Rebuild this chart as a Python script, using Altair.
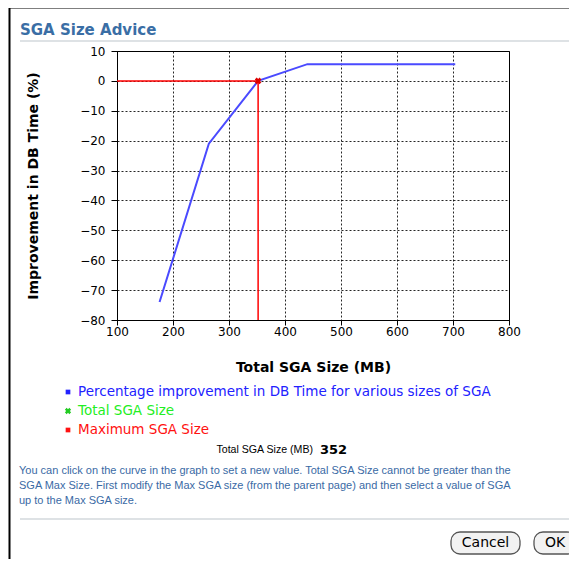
import altair as alt
import pandas as pd

# ---- data ----
sga_sizes = [176, 264, 352, 440, 528, 616, 704]
improvement = [-74, -21, 0, 5.6, 5.6, 5.6, 5.6]
x_ticks = [100, 200, 300, 400, 500, 600, 700, 800]
y_ticks = [-80, -70, -60, -50, -40, -30, -20, -10, 0, 10]
total_sga = [352]
total_improvement = [0]
max_sga = [352]

legend_labels = ["Percentage improvement in DB Time for various sizes of SGA",
                 "Total SGA Size", "Maximum SGA Size"]
legend_colors = ["#2222ff", "#22ee22", "#ff1111"]
help_lines = [
    "You can click on the curve in the graph to set a new value. Total SGA Size cannot be greater than the",
    "SGA Max Size. First modify the Max SGA size (from the parent page) and then select a value of SGA",
    "up to the Max SGA size.",
]

# plot-area origin on the page
OX, OY = 117, 51
W, H = 392, 269

curve = pd.DataFrame({"size": sga_sizes, "imp": improvement})
xs = alt.Scale(domain=[x_ticks[0], x_ticks[-1]], nice=False, zero=False)
ys = alt.Scale(domain=[y_ticks[0], y_ticks[-1]], nice=False, zero=False)

x_axis = alt.Axis(values=x_ticks, title="Total SGA Size (MB)", grid=True,
                  gridDash=[2, 2], gridColor="#000000", gridOpacity=0.85,
                  domainColor="#000000", tickColor="#000000", tickSize=5,
                  labelPadding=1, labelFont="DejaVu Sans", labelFontSize=12,
                  labelColor="#000000", titleFont="DejaVu Sans", titleFontSize=14,
                  titleFontWeight="bold", titleColor="#000000",
                  titleY=47, titleBaseline="middle", labelFlush=False,
                  labelOverlap=False)
y_axis = alt.Axis(values=y_ticks, title="Improvement in DB Time (%)", grid=True,
                  gridDash=[2, 2], gridColor="#000000", gridOpacity=0.85,
                  domainColor="#000000", tickColor="#000000", tickSize=6,
                  labelPadding=6, labelFont="DejaVu Sans", labelFontSize=12,
                  labelColor="#000000", titleFont="DejaVu Sans", titleFontSize=14,
                  titleFontWeight="bold", titleColor="#000000",
                  titleX=-84, titleY=H / 2, titleAngle=270, titleAlign="center",
                  titleBaseline="middle", labelFlush=False, labelOverlap=False)

line = alt.Chart(curve).mark_line(color="#4a4aff", strokeWidth=2).encode(
    x=alt.X("size:Q", scale=xs, axis=x_axis),
    y=alt.Y("imp:Q", scale=ys, axis=y_axis),
)

ref = pd.DataFrame({"x0": [x_ticks[0]], "tot": total_sga, "imp": total_improvement,
                    "ymin": [y_ticks[0]], "mx": max_sga})
hrule = alt.Chart(ref).mark_rule(color="#ff0000", strokeWidth=1.5).encode(
    x=alt.X("x0:Q", scale=xs, axis=x_axis), x2="tot:Q",
    y=alt.Y("imp:Q", scale=ys, axis=y_axis))
vrule = alt.Chart(ref).mark_rule(color="#ff0000", strokeWidth=1.5).encode(
    x=alt.X("mx:Q", scale=xs, axis=x_axis),
    y=alt.Y("ymin:Q", scale=ys, axis=y_axis), y2="imp:Q")
marker = alt.Chart(ref).mark_point(shape="cross", angle=45, filled=True,
                                   color="#dd0000", size=45, opacity=1).encode(
    x=alt.X("tot:Q", scale=xs, axis=x_axis), y=alt.Y("imp:Q", scale=ys, axis=y_axis))

one = alt.Data(values=[{"a": 1}])


def txt(px, py, s, size=13, color="#000000", font="DejaVu Sans", weight="normal",
        align="left"):
    return alt.Chart(one).mark_text(text=s, fontSize=size, color=color, font=font,
                                    fontWeight=weight, align=align,
                                    baseline="middle").encode(
        x=alt.value(px - OX), y=alt.value(py - OY))


def hline(x1, x2, py, color, w=1):
    return alt.Chart(one).mark_rule(color=color, strokeWidth=w).encode(
        x=alt.value(x1 - OX), x2=alt.value(x2 - OX), y=alt.value(py - OY))


def vline(px, y1, y2, color, w=1):
    return alt.Chart(one).mark_rule(color=color, strokeWidth=w).encode(
        x=alt.value(px - OX), y=alt.value(y1 - OY), y2=alt.value(y2 - OY))


layers = [line, hrule, vrule, marker]

# dialog frame and separators
layers += [hline(9, 600, 7.5, "#000000", 2), vline(9.5, 7, 600, "#000000", 2),
           hline(20, 600, 41, "#d3d8dd", 1.5), hline(20, 600, 519, "#d3d8dd", 1.5)]
layers.append(txt(20, 30, "SGA Size Advice", size=15, color="#3a6ea5",
                  weight="bold"))

# legend
legend_y = [392, 411, 430]
for lbl, col, yy in zip(legend_labels, legend_colors, legend_y):
    layers.append(txt(78, yy, lbl, size=13.5, color=col))
layers.append(alt.Chart(one).mark_point(shape="square", filled=True, size=22,
                                        color=legend_colors[0], opacity=1).encode(
    x=alt.value(68 - OX), y=alt.value(legend_y[0] - OY)))
layers.append(alt.Chart(one).mark_point(shape="cross", angle=45, filled=True,
                                        size=40, color="#22cc22", opacity=1).encode(
    x=alt.value(68 - OX), y=alt.value(legend_y[1] - OY)))
layers.append(alt.Chart(one).mark_point(shape="square", filled=True, size=22,
                                        color=legend_colors[2], opacity=1).encode(
    x=alt.value(68 - OX), y=alt.value(legend_y[2] - OY)))

# current value
layers.append(txt(313, 450, "Total SGA Size (MB)", size=10.6,
                  font="Liberation Sans", align="right"))
layers.append(txt(320, 450, str(total_sga[0]), size=13, weight="bold",
                  font="DejaVu Sans"))

# help text
for i, s in enumerate(help_lines):
    layers.append(txt(19, 471 + 15 * i, s, size=11, color="#3a6aa5",
                      font="Liberation Sans"))

# buttons
for (x1, x2, label) in [(451, 520, "Cancel"), (534, 576, "OK")]:
    layers.append(alt.Chart(one).mark_rect(fill="#f2f2f2", stroke="#555555",
                                           strokeWidth=1.3, cornerRadius=9).encode(
        x=alt.value(x1 - OX), x2=alt.value(x2 - OX),
        y=alt.value(532 - OY), y2=alt.value(554 - OY)))
    layers.append(txt((x1 + x2) / 2, 543, label, size=14, align="center"))

chart = alt.layer(*layers).properties(
    width=W, height=H,
    autosize=alt.AutoSizeParams(type="none"),
    padding={"left": OX - 8, "top": OY - 8, "right": 569 - OX - W,
             "bottom": 551 - (OY - 8) - H},
    background="#ffffff",
).configure_view(stroke="#000000", strokeWidth=1)

chart.save("out.html", embed_options={"renderer": "svg", "actions": False})
